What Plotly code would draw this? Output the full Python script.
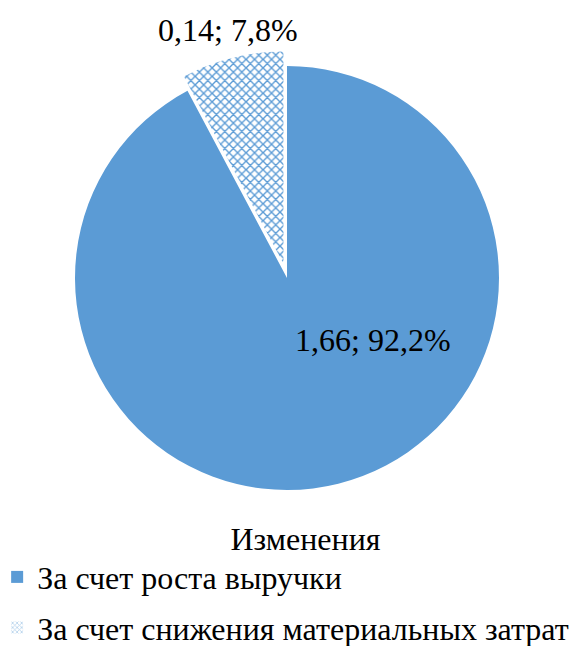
import plotly.graph_objects as go

# Source data
labels = ["За счет роста выручки", "За счет снижения материальных затрат"]
values = [1.66, 0.14]
legend_title = "Изменения"

BLUE = "#5B9BD5"
FONT = "Liberation Serif"
W, H = 571, 646

total = sum(values)


def fmt_label(v):
    share = v / total * 100
    return f"{v:.2f}".replace(".", ",") + "; " + f"{share:.1f}".replace(".", ",") + "%"


# Pie geometry (pixels): centre and radius, pull of the small slice
cx, cy, r = 287, 278, 212
pull = 0.07
half = r * (1 + pull)

fig = go.Figure()

fig.add_trace(go.Pie(
    labels=labels,
    values=values,
    sort=False,
    direction="clockwise",
    rotation=0,
    pull=[0, pull],
    textinfo="none",
    hoverinfo="label+value+percent",
    showlegend=False,
    marker=dict(
        colors=[BLUE, "#FFFFFF"],
        line=dict(width=0),
        pattern=dict(shape=["", "x"], fgcolor=BLUE, bgcolor="#FFFFFF",
                     size=6, solidity=0.4, fillmode="replace"),
    ),
    domain=dict(
        x=[(cx - half) / W, (cx + half) / W],
        y=[(H - cy - half) / H, (H - cy + half) / H],
    ),
))

# Legend entries (empty bar traces carrying the slice styles)
fills = [dict(color=BLUE), dict(color="#FFFFFF",
                                pattern=dict(shape="x", fgcolor=BLUE, bgcolor="#FFFFFF",
                                             size=4, solidity=0.4))]
for i, (lab, mk) in enumerate(zip(labels, fills)):
    fig.add_trace(go.Bar(x=[None], y=[None], name=lab, legendgroup=f"g{i}",
                         marker=dict(line=dict(width=0), **mk), showlegend=True,
                         hoverinfo="skip"))

# Value labels
label_font = dict(family=FONT, size=32, color="#000000")
fig.add_annotation(x=373 / W, y=1 - 340 / H, xref="paper", yref="paper",
                   xanchor="center", yanchor="middle",
                   text=fmt_label(values[0]), showarrow=False, font=label_font)
fig.add_annotation(x=228 / W, y=1 - 30 / H, xref="paper", yref="paper",
                   xanchor="center", yanchor="middle",
                   text=fmt_label(values[1]), showarrow=False, font=label_font)

fig.update_layout(
    width=W, height=H,
    margin=dict(l=0, r=0, t=0, b=0, autoexpand=False),
    paper_bgcolor="#FFFFFF",
    plot_bgcolor="#FFFFFF",
    font=dict(family=FONT, color="#000000"),
    xaxis=dict(visible=False),
    yaxis=dict(visible=False),
    legend=dict(
        x=-0.005, y=1 - 508 / H, xanchor="left", yanchor="top",
        orientation="v",
        traceorder="grouped",
        tracegroupgap=6,
        font=dict(family=FONT, size=32, color="#000000"),
        # title nudged right of the entries' centre
        title=dict(text="\u00a0" * 5 + legend_title, side="top center",
                   font=dict(family=FONT, size=32, color="#000000")),
        bgcolor="rgba(0,0,0,0)",
        borderwidth=0,
    ),
)

fig.write_html("out.html")
